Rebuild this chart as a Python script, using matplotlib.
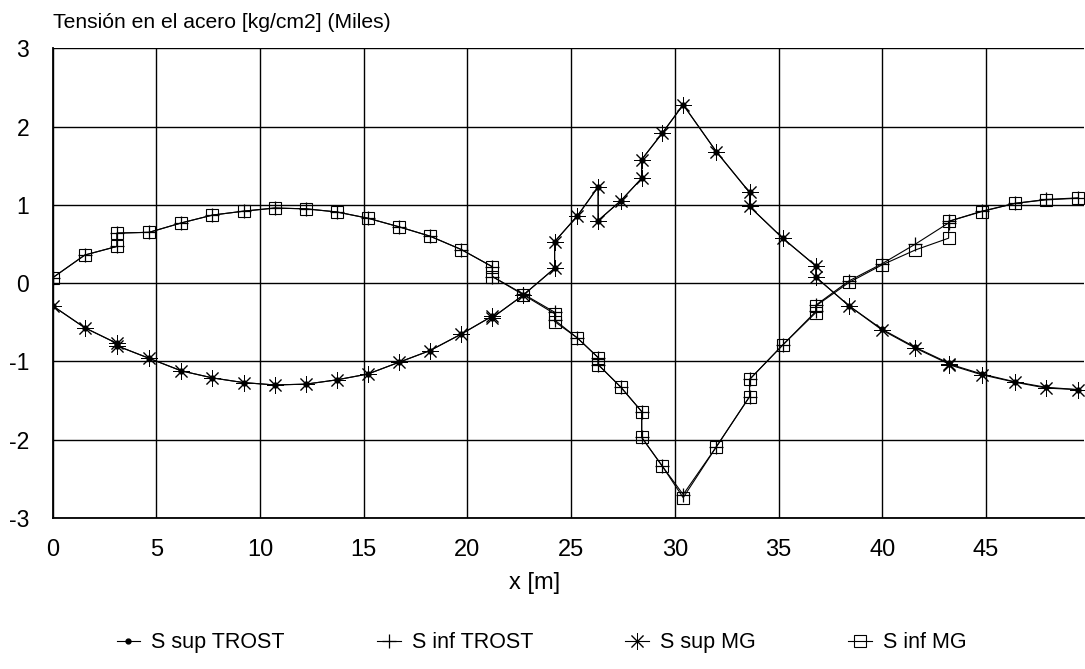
import matplotlib.pyplot as plt

plt.rcParams['font.family'] = ['Liberation Sans', 'DejaVu Sans']

# positions along the beam [m]; repeated x = jump in stress
x = [0, 1.55, 3.1, 3.1, 4.65, 6.2, 7.7, 9.2, 10.7, 12.2, 13.7, 15.2, 16.7, 18.2,
     19.7, 21.2, 21.2, 22.7, 24.2, 24.2, 25.3, 26.3, 26.3, 27.4, 28.4, 28.4,
     29.4, 30.4, 32.0, 33.6, 33.6, 35.2, 36.8, 36.8, 38.4, 40.0, 41.6, 43.2,
     43.2, 44.8, 46.4, 47.9, 49.45]

sup_trost = [-0.29, -0.57, -0.77, -0.80, -0.96, -1.12, -1.21, -1.27, -1.30, -1.29,
             -1.235, -1.16, -1.01, -0.86, -0.65, -0.42, -0.44, -0.15, 0.19, 0.53,
             0.86, 1.23, 0.80, 1.055, 1.34, 1.58, 1.92, 2.28, 1.68, 1.16, 0.98,
             0.575, 0.22, 0.077, -0.29, -0.59, -0.82, -1.02, -1.03, -1.16, -1.26,
             -1.33, -1.36]
inf_trost = [0.07, 0.36, 0.47, 0.64, 0.65, 0.77, 0.87, 0.92, 0.96, 0.95, 0.91,
             0.83, 0.72, 0.60, 0.43, 0.21, 0.085, -0.14, -0.37, -0.47, -0.70,
             -0.95, -1.04, -1.33, -1.64, -1.97, -2.34, -2.70, -2.09, -1.45, -1.23,
             -0.79, -0.36, -0.28, 0.03, 0.25, 0.50, 0.77, 0.79, 0.92, 1.02, 1.07,
             1.09]
sup_mg = [-0.29, -0.57, -0.77, -0.80, -0.96, -1.12, -1.21, -1.27, -1.30, -1.29,
          -1.235, -1.16, -1.01, -0.86, -0.65, -0.42, -0.44, -0.15, 0.19, 0.53,
          0.86, 1.23, 0.80, 1.055, 1.34, 1.58, 1.92, 2.28, 1.68, 1.16, 0.98,
          0.575, 0.22, 0.077, -0.29, -0.60, -0.83, -1.03, -1.04, -1.17, -1.265,
          -1.34, -1.36]
inf_mg = [0.07, 0.36, 0.47, 0.64, 0.65, 0.77, 0.87, 0.92, 0.96, 0.95, 0.91,
          0.83, 0.72, 0.60, 0.43, 0.21, 0.085, -0.15, -0.39, -0.49, -0.70,
          -0.95, -1.04, -1.33, -1.64, -1.97, -2.34, -2.74, -2.09, -1.45, -1.23,
          -0.79, -0.375, -0.29, 0.01, 0.235, 0.425, 0.575, 0.79, 0.915, 1.02,
          1.065, 1.085]

xticks = [0, 5, 10, 15, 20, 25, 30, 35, 40, 45]
yticks = [-3, -2, -1, 0, 1, 2, 3]
ylabels = ['-3', '-2', '-1', '0', '1', '2', '3']

fig = plt.figure(figsize=(10.85, 6.69), dpi=100)
ax = fig.add_axes([0.0486, 0.2257, 0.9509, 0.702])

lw = 0.8
ax.plot(x, sup_trost, '-', color='black', lw=lw, marker='o', ms=3.5,
        label='S sup TROST')
ax.plot(x, inf_trost, '-', color='black', lw=lw, marker='+', ms=10, mew=0.9,
        label='S inf TROST')
ax.plot(x, sup_mg, '-', color='black', lw=lw, marker=(8, 2, 0), ms=12, mew=0.7,
        label='S sup MG')
ax.plot(x, inf_mg, '-', color='black', lw=lw, marker='s', ms=8, mfc='none',
        mew=0.8, label='S inf MG')

ax.set_xlim(0, 49.75)
ax.set_ylim(-3, 3)
ax.set_xticks(xticks)
ax.set_xticklabels([str(t) for t in xticks])
ax.set_yticks(yticks)
ax.set_yticklabels(ylabels)
ax.tick_params(axis='x', length=0, labelsize=17, pad=15)
ax.tick_params(axis='y', length=0, labelsize=16.5, pad=17)
ax.grid(True, color='black', lw=1.0)
ax.set_axisbelow(True)
for s in ['top', 'right']:
    ax.spines[s].set_visible(False)
ax.spines['left'].set_linewidth(1.3)
ax.spines['bottom'].set_linewidth(1.3)

ax.set_xlabel('x [m]', fontsize=17)
ax.xaxis.set_label_coords(0.467, -0.115)
fig.text(0.049, 0.966, 'Tensión en el acero [kg/cm2] (Miles)', fontsize=15.2,
         va='center', ha='left')

fig.legend(loc='center', bbox_to_anchor=(0.499, 0.039), ncol=4, frameon=False,
           fontsize=15.5, handlelength=1.1, columnspacing=4.3, handletextpad=0.5)

fig.savefig('out.png', dpi=100)
